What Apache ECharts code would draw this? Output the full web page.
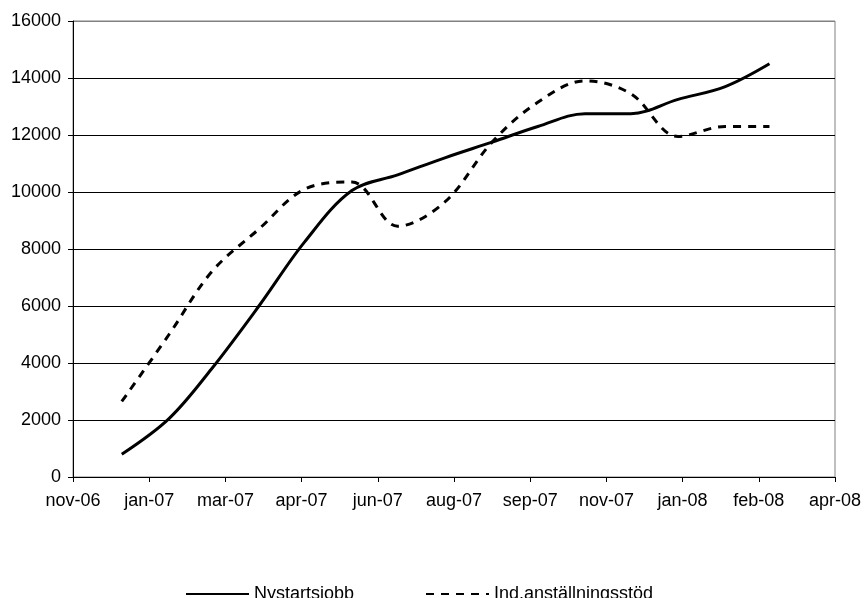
<!DOCTYPE html>
<html><head><meta charset="utf-8">
<script src="https://cdn.jsdelivr.net/npm/echarts@6/dist/echarts.min.js"></script>
<style>html,body{margin:0;padding:0;background:#fff}#c{width:865px;height:598px}</style>
</head><body><div id="c"></div>
<script>
// Month-end reporting dates
const dates = ['2006-12-31','2007-01-31','2007-02-28','2007-03-31','2007-04-30','2007-05-31','2007-06-30',
  '2007-07-31','2007-08-31','2007-09-30','2007-10-31','2007-11-30','2007-12-31','2008-01-31','2008-02-29'];
const nystartsjobb = [800, 2050, 3800, 6000, 8250, 10050, 10600, 11200, 11750, 12300, 12750, 12750, 13250, 13700, 14500];
const indAnstallningsstod = [2650, 5000, 7200, 8700, 10100, 10350, 8800, 9650, 11750, 13150, 13900, 13450, 11950, 12300, 12300];
const seriesNames = ['Nystartsjobb', 'Ind.anställningsstöd'];
const monthNames = ['jan','feb','mar','apr','maj','jun','jul','aug','sep','okt','nov','dec'];
// x axis in Excel date serials
const xMin = 39050, xMax = 39550, xStep = 50;
const yMin = 0, yMax = 16000, yStep = 2000;

function toSerial(s){ const p = s.split('-').map(Number); return Date.UTC(p[0], p[1]-1, p[2]) / 86400000 + 25569; }
function fmtDate(v){ const d = new Date(Math.round(v - 25569) * 86400000); return monthNames[d.getUTCMonth()] + '-' + String(d.getUTCFullYear() % 100).padStart(2, '0'); }

const xs = dates.map(toSerial);
const font = 'Liberation Sans, Arial, sans-serif';
const chart = echarts.init(document.getElementById('c'), null, {renderer: 'canvas'});
const gridColors = [];
for (let v = yMin; v <= yMax; v += yStep) gridColors.push(v === yMax ? '#808080' : '#000000');

const legendCommon = {top: 580, itemWidth: 63, itemHeight: 14, itemGap: 0,
  itemStyle: {opacity: 0}, textStyle: {color: '#000', fontFamily: font, fontSize: 18}};

chart.setOption({
  animation: false,
  backgroundColor: '#ffffff',
  grid: {left: 73, right: 30, top: 21, bottom: 121, show: true, borderColor: '#808080', borderWidth: 1},
  xAxis: {
    type: 'value', min: xMin, max: xMax, interval: xStep,
    axisLine: {show: true, lineStyle: {color: '#000', width: 1}},
    axisTick: {show: true, length: 5, lineStyle: {color: '#000'}},
    splitLine: {show: false},
    axisLabel: {formatter: fmtDate, color: '#000', fontFamily: font, fontSize: 18, margin: 15}
  },
  yAxis: {
    type: 'value', min: yMin, max: yMax, interval: yStep,
    axisLine: {show: true, lineStyle: {color: '#000', width: 1}},
    axisTick: {show: true, length: 5, lineStyle: {color: '#000'}},
    splitLine: {show: true, lineStyle: {color: gridColors, width: 1}},
    axisLabel: {formatter: v => String(v), color: '#000', fontFamily: font, fontSize: 18, margin: 12}
  },
  legend: [
    Object.assign({data: [seriesNames[0]], left: 180}, legendCommon),
    Object.assign({data: [seriesNames[1]], left: 420}, legendCommon)
  ],
  series: [
    {name: seriesNames[0], type: 'line', data: xs.map((x, i) => [x, nystartsjobb[i]]),
     symbol: 'none', smooth: 0.35, lineStyle: {color: '#000', width: 3, type: 'solid'}, itemStyle: {color: '#000'}},
    {name: seriesNames[1], type: 'line', data: xs.map((x, i) => [x, indAnstallningsstod[i]]),
     symbol: 'none', smooth: 0.35, lineStyle: {color: '#000', width: 3, type: [8, 7]}, itemStyle: {color: '#000'}}
  ]
});
</script>
</body></html>
